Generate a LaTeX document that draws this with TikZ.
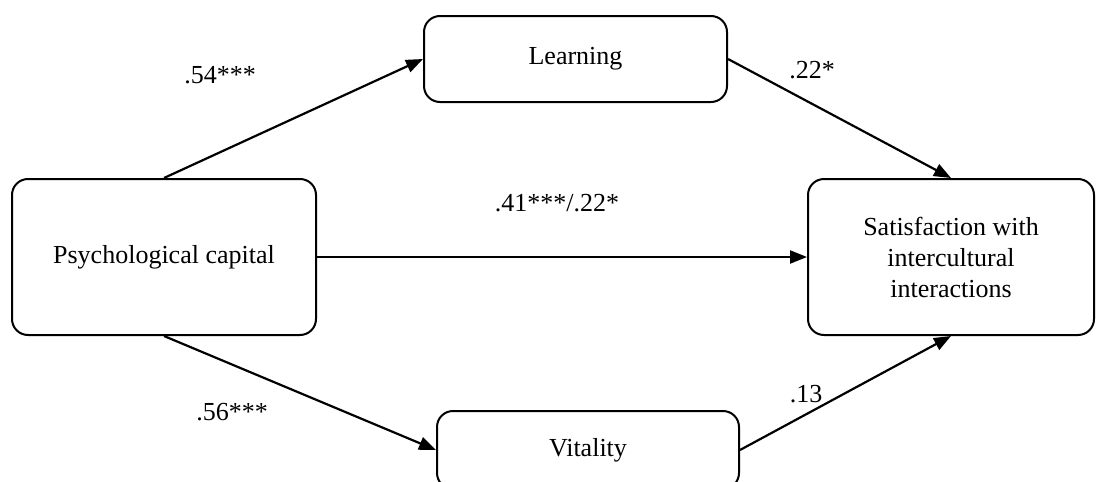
\documentclass[tikz,border=0pt]{standalone}
\usepackage{fontspec}
\setmainfont{Liberation Serif}
\usetikzlibrary{arrows.meta}
\begin{document}
\begin{tikzpicture}[x=1pt,y=-1pt,
  box/.style={draw,line width=2pt,rounded corners=16pt,align=center,inner sep=0pt,font=\fontsize{26}{31}\selectfont},
  lab/.style={inner sep=0pt,font=\fontsize{26}{31}\selectfont},
  conn/.style={line width=2.2pt,-{Triangle[length=17pt,width=13pt]}}]
\useasboundingbox (0,0) rectangle (1098,482);
\node[box,minimum width=304pt,minimum height=156pt] (psy) at (164,257) {Psychological capital};
\node[box,minimum width=303pt,minimum height=86pt] (lea) at (575.5,59) {Learning};
\node[box,minimum width=302pt,minimum height=78pt] (vit) at (588,450) {Vitality};
\node[box,minimum width=286pt,minimum height=156pt] (sat) at (951,257) {Satisfaction with\\intercultural\\interactions};
\draw[conn] (psy.north) -- (lea.west);
\draw[conn] (lea.east) -- (sat.north);
\draw[conn] (psy.east) -- (sat.west);
\draw[conn] (psy.south) -- (vit.west);
\draw[conn] (vit.east) -- (sat.south);
\node[lab] (l1) at (220,75) {.54***};
\node[lab] (l2) at (812,70) {.22*};
\node[lab] (l3) at (557,203) {.41***/.22*};
\node[lab] (l4) at (232,412) {.56***};
\node[lab] (l5) at (806,394) {.13};
\end{tikzpicture}
\end{document}
